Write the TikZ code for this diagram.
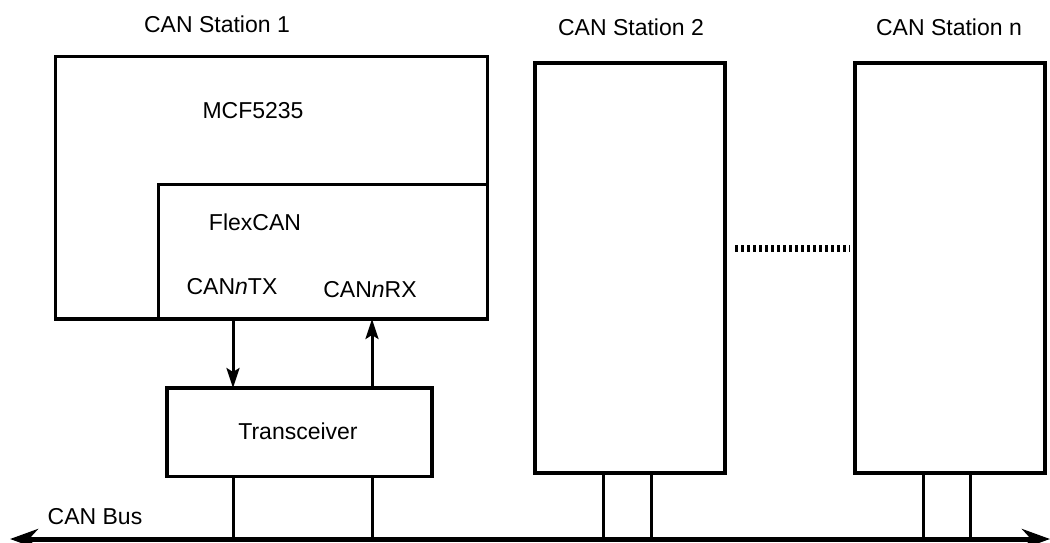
\documentclass[tikz,border=0pt]{standalone}
\usepackage{fontspec}
\setmainfont{Liberation Sans}
\usetikzlibrary{arrows.meta}
\begin{document}
\begin{tikzpicture}[x=1pt,y=-1pt,
  box/.style={draw, line width=3.3pt, inner sep=0pt, outer sep=0pt, anchor=north west},
  lbl/.style={font=\fontsize{23}{27}\selectfont, inner sep=0pt},
  sig/.style={line width=3pt, -{Stealth[length=20pt,width=13pt,inset=4pt]}},
  tap/.style={line width=3pt},
  bus/.style={line width=5pt, {Stealth[length=28pt,width=20pt,inset=9pt]}-{Stealth[length=28pt,width=20pt,inset=9pt]}},
  dots/.style={line width=7pt, dash pattern=on 2.6pt off 3.4pt}]
\useasboundingbox (0,0) rectangle (1050,542);
% boxes
\node[box, minimum width=432pt, minimum height=262.5pt] (mcf) at (55.5,56.5) {};
\node[box, fill=white, minimum width=329pt, minimum height=134.5pt] (flex) at (158.5,184.5) {};
\node[box, minimum width=265pt, minimum height=88.5pt] (trans) at (167,388) {};
\node[box, minimum width=190pt, minimum height=410pt] (st2) at (535,63) {};
\node[box, minimum width=190pt, minimum height=410pt] (stn) at (855,63) {};
% labels
\node[lbl] (t1) at (217,24) {CAN Station 1};
\node[lbl] (t2) at (631,27) {CAN Station 2};
\node[lbl] (tn) at (949,27) {CAN Station n};
\node[lbl] (lmcf) at (253,111) {MCF5235};
\node[lbl] (lflex) at (255,222) {FlexCAN};
\node[lbl] (ltx) at (232,287) {CAN\textit{n}TX};
\node[lbl] (lrx) at (370,289.5) {CAN\textit{n}RX};
\node[lbl] (ltr) at (298,431) {Transceiver};
\node[lbl] (lbus) at (95,516.5) {CAN Bus};
% bus
\coordinate (busL) at (10,539);
\coordinate (busR) at (1050,539);
\draw[bus] (busL) -- (busR);
% signal columns
\coordinate (cTX) at (233,0);
\coordinate (cRX) at (372,0);
\draw[sig] (flex.south -| cTX) -- (trans.north -| cTX);
\draw[sig] (trans.north -| cRX) -- (flex.south -| cRX);
\draw[tap] (trans.south -| cTX) -- (busL -| cTX);
\draw[tap] (trans.south -| cRX) -- (busL -| cRX);
% station taps
\coordinate (a2) at (603,0);
\coordinate (b2) at (651,0);
\coordinate (an) at (923,0);
\coordinate (bn) at (970,0);
\draw[tap] (st2.south -| a2) -- (busL -| a2);
\draw[tap] (st2.south -| b2) -- (busL -| b2);
\draw[tap] (stn.south -| an) -- (busL -| an);
\draw[tap] (stn.south -| bn) -- (busL -| bn);
% dotted link
\coordinate (d1) at (735,248);
\coordinate (d2) at (850,248);
\draw[dots] (d1) -- (d2);
\end{tikzpicture}
\end{document}
